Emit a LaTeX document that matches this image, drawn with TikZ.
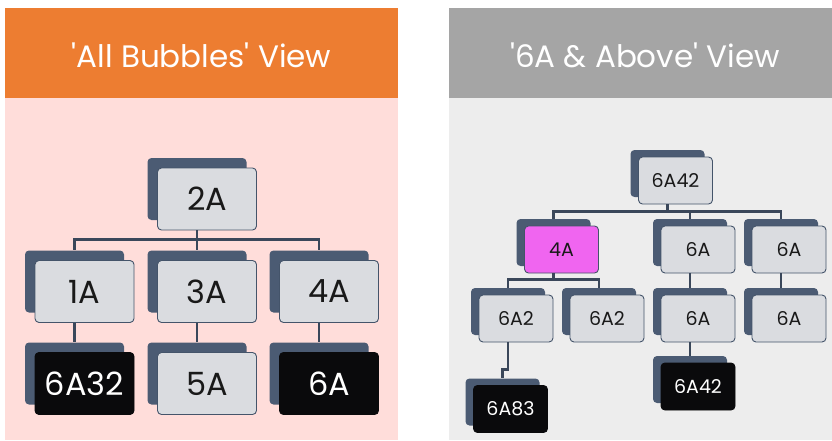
\documentclass[tikz,border=0pt]{standalone}
\usepackage{fontspec}
\setmainfont{Poppins}
\usetikzlibrary{shadows,calc}
\definecolor{orangeh}{HTML}{ED7D31}
\definecolor{pinkbg}{HTML}{FFDDDA}
\definecolor{grayh}{HTML}{A5A5A5}
\definecolor{graybg}{HTML}{EDEDED}
\definecolor{boxfill}{HTML}{DADCE0}
\definecolor{boxdraw}{HTML}{44546A}
\definecolor{shadowc}{HTML}{4B5B73}
\definecolor{connc}{HTML}{3A475A}
\definecolor{magentabox}{HTML}{F065F0}
\definecolor{blackbox}{HTML}{0A0A0C}
\tikzset{
  bigbox/.style={rectangle, rounded corners=4pt, draw=boxdraw, line width=0.9pt, fill=boxfill,
    minimum width=99pt, minimum height=62pt, inner sep=0pt, text=black!90,
    font=\fontsize{32}{32}\selectfont,
    copy shadow={shadow xshift=-10pt, shadow yshift=10pt, fill=shadowc, draw=none}},
  smallbox/.style={rectangle, rounded corners=4pt, draw=boxdraw, line width=0.9pt, fill=boxfill,
    minimum width=74pt, minimum height=47pt, inner sep=0pt, text=black!90,
    font=\fontsize{19}{19}\selectfont,
    copy shadow={shadow xshift=-8pt, shadow yshift=7pt, fill=shadowc, draw=none}},
  darkbox/.style={fill=blackbox, draw=blackbox, text=white},
  pinkbox/.style={fill=magentabox},
  conn/.style={draw=connc, line width=2.6pt},
  header/.style={text=white, font=\fontsize{31}{31}\selectfont}
}
\begin{document}
\begin{tikzpicture}[x=1pt,y=-1pt]
\useasboundingbox (0,0) rectangle (832,441);
\fill[white] (0,0) rectangle (832,441);
% left panel
\fill[orangeh] (5,8) rectangle (398,98);
\fill[pinkbg] (5,98) rectangle (398,440);
\node[header] (hl) at (201.5,55) {\textquotesingle All Bubbles\textquotesingle\ View};
% right panel
\fill[grayh] (449,8) rectangle (832,98);
\fill[graybg] (449,98) rectangle (832,440);
\node[header] (hr) at (645,55) {\textquotesingle 6A \& Above\textquotesingle\ View};

% left tree
\node[bigbox] (a2) at (207,199) {2A};
\node[bigbox] (b1) at (84.5,291.5) {1A};
\node[bigbox] (b3) at (207,291.5) {3A};
\node[bigbox] (b4) at (329,291.5) {4A};
\node[bigbox,darkbox] (c1) at (84.5,383.5) {6A32};
\node[bigbox] (c5) at (207,383.5) {5A};
\node[bigbox,darkbox] (c6) at (329,383.5) {6A};

\draw[conn] ([xshift=-10pt]a2.south) -- ++(0,9) -| ([shift={(-10pt,10pt)}]b1.north);
\draw[conn] ([xshift=-10pt]a2.south) -- ++(0,9) -| ([shift={(-10pt,10pt)}]b3.north);
\draw[conn] ([xshift=-10pt]a2.south) -- ++(0,9) -| ([shift={(-10pt,10pt)}]b4.north);
\draw[conn] ([xshift=-10pt]b1.south) -- ([shift={(-10pt,10pt)}]c1.north);
\draw[conn] ([xshift=-10pt]b3.south) -- ([shift={(-10pt,10pt)}]c5.north);
\draw[conn] ([xshift=-10pt]b4.south) -- ([shift={(-10pt,10pt)}]c6.north);

% right tree
\node[smallbox] (r0) at (675.5,180.5) {6A42};
\node[smallbox,pinkbox] (r4a) at (561.5,249.5) {4A};
\node[smallbox] (r6m) at (698,249.5) {6A};
\node[smallbox] (r6r) at (789,249.5) {6A};
\node[smallbox] (s1) at (516,318.5) {6A2};
\node[smallbox] (s2) at (607,318.5) {6A2};
\node[smallbox] (s3) at (698,318.5) {6A};
\node[smallbox] (s4) at (789,318.5) {6A};
\node[smallbox,darkbox] (t1) at (510.5,409) {6A83};
\node[smallbox,darkbox] (t2) at (698,386.5) {6A42};

\draw[conn] ([xshift=-8pt]r0.south) -- ++(0,7) -| ([shift={(-8pt,7pt)}]r4a.north);
\draw[conn] ([xshift=-8pt]r0.south) -- ++(0,7) -| ([shift={(-8pt,7pt)}]r6m.north);
\draw[conn] ([xshift=-8pt]r0.south) -- ++(0,7) -| ([shift={(-8pt,7pt)}]r6r.north);
\draw[conn] ([xshift=-8pt]r4a.south) -- ++(0,6) -| ([shift={(-8pt,7pt)}]s1.north);
\draw[conn] ([xshift=-8pt]r4a.south) -- ++(0,6) -| ([shift={(-8pt,7pt)}]s2.north);
\draw[conn] ([xshift=-8pt]r6m.south) -- ([shift={(-8pt,7pt)}]s3.north);
\draw[conn] ([xshift=-8pt]r6r.south) -- ([shift={(-8pt,7pt)}]s4.north);
\draw[conn] ([xshift=-8pt]s3.south) -- ([shift={(-8pt,7pt)}]t2.north);
\draw[conn] ([xshift=-8pt]s1.south) -- ++(0,27) -| ([shift={(-8pt,7pt)}]t1.north);
\end{tikzpicture}
\end{document}
